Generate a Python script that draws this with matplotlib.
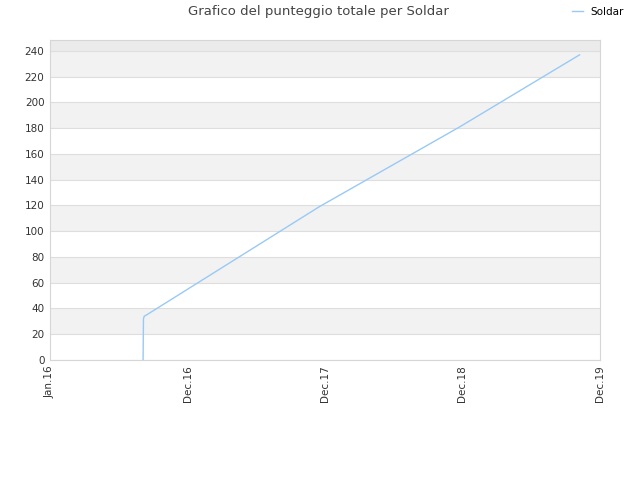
import matplotlib
matplotlib.use("Agg")
import matplotlib.pyplot as plt
import matplotlib.dates as mdates
import numpy as np
from datetime import datetime

# data
dates = [datetime(2016, 8, 30), datetime(2016, 8, 31), datetime(2016, 9, 2),
         datetime(2016, 9, 8), datetime(2017, 12, 1), datetime(2018, 12, 1),
         datetime(2019, 10, 9)]
scores = [0, 32, 34, 35, 119, 181, 237]
series_name = "Soldar"
x_start = datetime(2016, 1, 1)
x_end = datetime(2019, 12, 1)
tick_labels = ["Jan.16", "Dec.16", "Dec.17", "Dec.18", "Dec.19"]
y_ticks = list(range(0, 241, 20))

fig = plt.figure(figsize=(6.4, 4.8), dpi=100)
ax = fig.add_axes([50 / 640, 120 / 480, 550 / 640, 320 / 480])

ymax = 248.5
# alternating bands
for i, lo in enumerate(y_ticks):
    hi = min(lo + 20, ymax)
    if i % 2 == 1:
        ax.axhspan(lo, hi, color="#f2f2f2", zorder=0, lw=0)
ax.axhspan(240, ymax, color="#ebebeb", zorder=0, lw=0)
for y in y_ticks:
    ax.axhline(y, color="#dedede", lw=0.8, zorder=1)

ax.plot(dates, scores, color="#99c9f5", lw=1.0, label=series_name, zorder=3)

# the ticks are spread evenly over the range
x0, x1 = mdates.date2num(x_start), mdates.date2num(x_end)
ax.set_xlim(x0, x1)
ax.set_ylim(0, ymax)
ax.set_yticks(y_ticks)
ax.set_xticks(np.linspace(x0, x1, len(tick_labels)))
ax.set_xticklabels(tick_labels, rotation=90)
ax.tick_params(axis="both", length=0, labelsize=7.5, colors="#333333", pad=4)
for s in ax.spines.values():
    s.set_color("#d6d6d6")
    s.set_linewidth(0.8)

fig.text(0.497, 1 - 12 / 480, "Grafico del punteggio totale per Soldar", ha="center",
         va="center", fontsize=9.5, color="#444444")
fig.legend(loc="center right", bbox_to_anchor=(0.99, 1 - 12 / 480), frameon=False,
           fontsize=7.5, handlelength=1.0, handletextpad=0.8)

fig.savefig("out.png", dpi=100, facecolor="white")
